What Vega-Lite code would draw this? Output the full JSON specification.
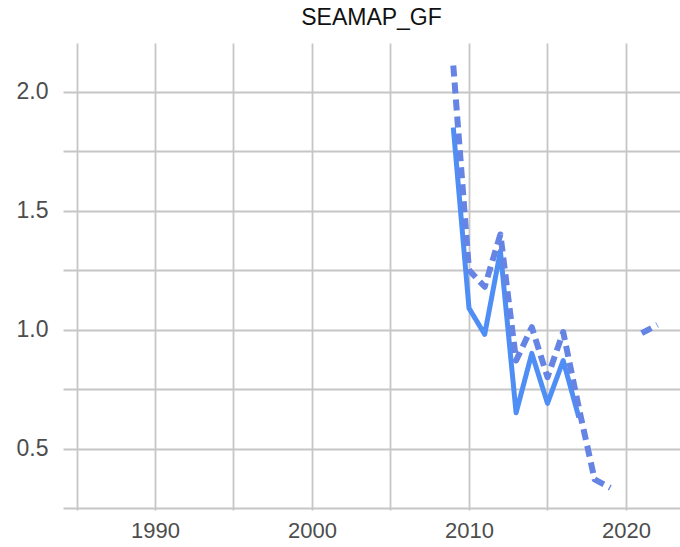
{
  "$schema": "https://vega.github.io/schema/vega-lite/v6.json",
  "autosize": "none",
  "width": 617,
  "height": 467,
  "padding": {"left": 63, "top": 43, "right": 0, "bottom": 37},
  "background": "white",
  "title": {"text": "SEAMAP_GF", "fontSize": 23, "font": "Liberation Sans", "fontWeight": "normal", "color": "#111111", "offset": 13, "anchor": "middle"},
  "config": {"view": {"stroke": null}},
  "data": {"values": [
    {"year": 2009, "value": 1.85, "series": "solid"},
    {"year": 2010, "value": 1.09, "series": "solid"},
    {"year": 2011, "value": 0.98, "series": "solid"},
    {"year": 2012, "value": 1.33, "series": "solid"},
    {"year": 2013, "value": 0.65, "series": "solid"},
    {"year": 2014, "value": 0.9, "series": "solid"},
    {"year": 2015, "value": 0.69, "series": "solid"},
    {"year": 2016, "value": 0.87, "series": "solid"},
    {"year": 2017, "value": 0.63, "series": "solid"},
    {"year": 2009, "value": 2.11, "series": "dashed"},
    {"year": 2010, "value": 1.25, "series": "dashed"},
    {"year": 2011, "value": 1.18, "series": "dashed"},
    {"year": 2012, "value": 1.4, "series": "dashed"},
    {"year": 2013, "value": 0.87, "series": "dashed"},
    {"year": 2014, "value": 1.01, "series": "dashed"},
    {"year": 2015, "value": 0.8, "series": "dashed"},
    {"year": 2016, "value": 0.99, "series": "dashed"},
    {"year": 2017, "value": 0.67, "series": "dashed"},
    {"year": 2018, "value": 0.37, "series": "dashed"},
    {"year": 2019, "value": 0.335, "series": "dashed"},
    {"year": 2020, "value": null, "series": "dashed"},
    {"year": 2021, "value": 0.985, "series": "dashed"},
    {"year": 2022, "value": 1.02, "series": "dashed"}
  ]},
  "mark": {"type": "line", "strokeCap": "butt", "strokeJoin": "round", "clip": true},
  "encoding": {
    "x": {"field": "year", "type": "quantitative",
      "scale": {"domain": [1984.14, 2023.44], "nice": false, "zero": false},
      "axis": {"title": null, "values": [1985, 1990, 1995, 2000, 2005, 2010, 2015, 2020],
        "labelExpr": "datum.value % 10 == 0 ? datum.value : ''",
        "domain": false, "ticks": false, "grid": true, "gridColor": "#c6c6c6", "gridWidth": 1.8,
        "labelFont": "Liberation Sans", "labelFontSize": 22, "labelColor": "#4d4d4d", "labelPadding": 10}},
    "y": {"field": "value", "type": "quantitative",
      "scale": {"domain": [0.2416, 2.205], "nice": false, "zero": false},
      "axis": {"title": null, "values": [0.25, 0.5, 0.75, 1.0, 1.25, 1.5, 1.75, 2.0],
        "labelExpr": "(round(datum.value*100) % 50 == 0) ? format(datum.value, '.1f') : ''",
        "domain": false, "ticks": false, "grid": true, "gridColor": "#c6c6c6", "gridWidth": 1.8,
        "labelFont": "Liberation Sans", "labelFontSize": 23, "labelColor": "#4d4d4d", "labelPadding": 15}},
    "color": {"field": "series", "type": "nominal", "legend": null,
      "scale": {"domain": ["solid", "dashed"], "range": ["#4f8ef5", "#6584e4"]}},
    "strokeDash": {"field": "series", "type": "nominal", "legend": null,
      "scale": {"domain": ["solid", "dashed"], "range": [[1, 0], [11, 6]]}},
    "strokeWidth": {"field": "series", "type": "nominal", "legend": null,
      "scale": {"domain": ["solid", "dashed"], "range": [5, 6]}}
  }
}
